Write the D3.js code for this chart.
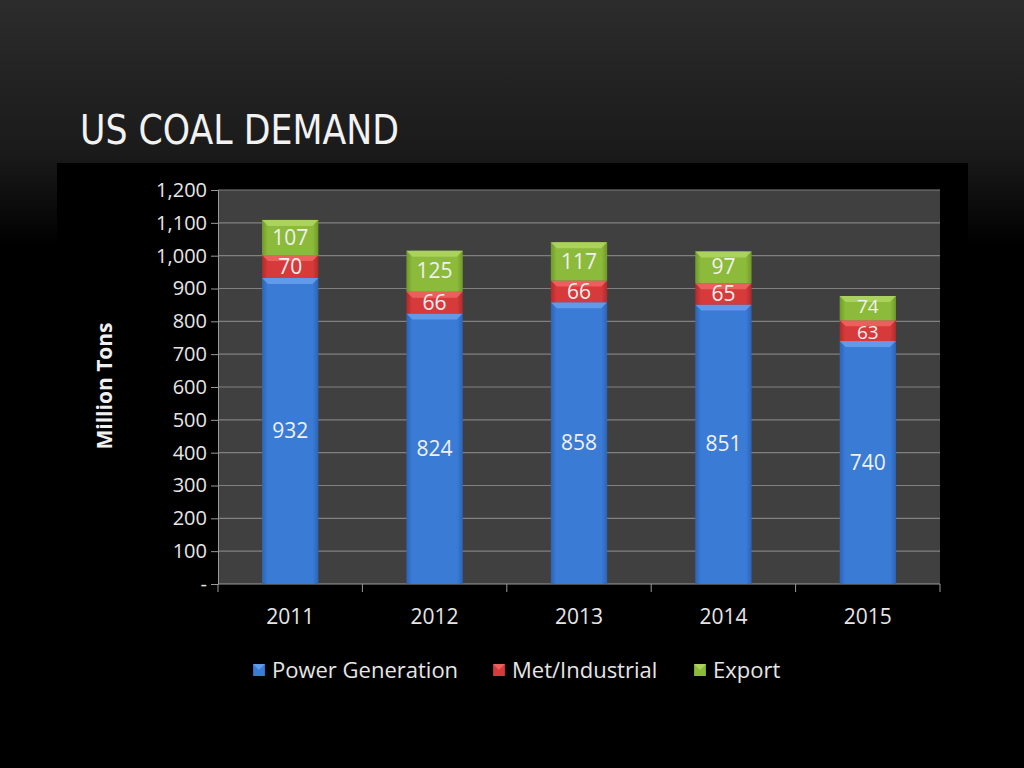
<!DOCTYPE html>
<html><head><meta charset="utf-8">
<script src="https://cdn.jsdelivr.net/npm/d3@7"></script>
<style>body{margin:0;background:#000;}svg{display:block;}</style>
</head><body>
<script>
const years = ["2011","2012","2013","2014","2015"];
const powerGeneration = [932, 824, 858, 851, 740];
const metIndustrial = [70, 66, 66, 65, 63];
const exportVals = [107, 125, 117, 97, 74];
const seriesNames = ["Power Generation", "Met/Industrial", "Export"];
const yTicks = [0,100,200,300,400,500,600,700,800,900,1000,1100,1200];

const W = 1024, H = 768;
const svg = d3.select("body").append("svg").attr("width", W).attr("height", H);
const defs = svg.append("defs");
const bg = defs.append("linearGradient").attr("id","bg").attr("x1",0).attr("y1",0).attr("x2",0).attr("y2",1);
bg.append("stop").attr("offset","0").attr("stop-color","#2c2c2c");
bg.append("stop").attr("offset","0.2").attr("stop-color","#1a1a1a");
bg.append("stop").attr("offset","0.32").attr("stop-color","#000");
bg.append("stop").attr("offset","1").attr("stop-color","#000");
svg.append("rect").attr("width",W).attr("height",H).attr("fill","url(#bg)");

svg.append("text").attr("x",80).attr("y",144).text("US COAL DEMAND")
  .attr("font-family","'Liberation Sans Narrow','DejaVu Sans Condensed',sans-serif")
  .attr("font-size",41).attr("fill","#f2f2f2").attr("textLength",319).attr("lengthAdjust","spacingAndGlyphs");

// chart area
svg.append("rect").attr("x",57).attr("y",163).attr("width",911).attr("height",605).attr("fill","#000");

const colors = [
  {base:"#3a7bd6", light:"#6aa3ee", dark:"#2c64b6"},
  {base:"#d63a3a", light:"#ef6a66", dark:"#b02a2a"},
  {base:"#8cba3a", light:"#b3d867", dark:"#6f9a28"}
];
colors.forEach((c,i)=>{
  const g = defs.append("linearGradient").attr("id","g"+i).attr("x1",0).attr("y1",0).attr("x2",1).attr("y2",0);
  g.append("stop").attr("offset","0").attr("stop-color",c.dark);
  g.append("stop").attr("offset","0.1").attr("stop-color",c.base);
  g.append("stop").attr("offset","0.9").attr("stop-color",c.base);
  g.append("stop").attr("offset","1").attr("stop-color",c.dark);
});

const x0 = 218, x1 = 940, yTop = 190, yBot = 584;
const x = d3.scaleBand().domain(years).range([x0,x1]).paddingInner(0.61).paddingOuter(0.305);
const y = d3.scaleLinear().domain([0,1200]).range([yBot,yTop]);

svg.append("rect").attr("x",x0).attr("y",yTop).attr("width",x1-x0).attr("height",yBot-yTop).attr("fill","#404040");

// gridlines
svg.append("g").selectAll("line").data(yTicks.filter(d=>d>0)).join("line")
  .attr("x1",x0).attr("x2",x1).attr("y1",d=>y(d)).attr("y2",d=>y(d))
  .attr("stroke","#808080").attr("stroke-width",1.2);

const FONT = "'Open Sans',sans-serif";
// y axis
const yAxis = d3.axisLeft(y).tickValues(yTicks).tickSize(7).tickPadding(4)
  .tickFormat(d=> d===0 ? "-" : d3.format(",")(d));
const ya = svg.append("g").attr("transform",`translate(${x0},0)`).call(yAxis);
ya.attr("font-size",null).attr("font-family",null);
ya.select(".domain").attr("stroke","#9a9a9a");
ya.selectAll(".tick line").attr("stroke","#9a9a9a");
ya.selectAll("text").attr("fill","#e6e6e6").style("font-size","20px").style("font-family",FONT);

// x axis
const xa = svg.append("g").attr("transform",`translate(0,${yBot})`);
xa.append("line").attr("x1",x0).attr("x2",x1).attr("stroke","#9a9a9a");
const bounds = d3.range(6).map(i=> x0 + i*(x1-x0)/5);
xa.selectAll("line.t").data(bounds).join("line").attr("class","t")
  .attr("x1",d=>d).attr("x2",d=>d).attr("y1",0).attr("y2",8).attr("stroke","#9a9a9a");
xa.selectAll("text").data(years).join("text")
  .attr("x",d=>x(d)+x.bandwidth()/2).attr("y",40).attr("text-anchor","middle")
  .attr("fill","#e6e6e6").style("font-size","21px").style("font-family",FONT).text(d=>d);

svg.append("text").attr("transform","translate(112,386) rotate(-90)").attr("text-anchor","middle")
  .attr("fill","#f0f0f0").style("font-size","21px").attr("font-weight","bold")
  .style("font-family",FONT).text("Million Tons");

// stacked bars
const rows = years.map((yr,i)=>({year:yr, p:powerGeneration[i], m:metIndustrial[i], e:exportVals[i]}));
const stack = d3.stack().keys(["p","m","e"])(rows);
const bars = svg.append("g");
stack.forEach((layer,li)=>{
  layer.forEach(d=>{
    const bx = x(d.data.year), bw = x.bandwidth();
    const ty = y(d[1]), by = y(d[0]);
    bars.append("rect").attr("x",bx).attr("y",ty).attr("width",bw).attr("height",by-ty).attr("fill",`url(#g${li})`);
    const bev = 6;
    bars.append("path").attr("d",`M${bx},${ty} L${bx+bw},${ty} L${bx+bw-bev},${ty+bev} L${bx+bev},${ty+bev} Z`)
      .attr("fill",colors[li].light).attr("opacity",0.8);
  });
});
stack.forEach((layer,li)=>{
  layer.forEach((d,i)=>{
    const bx = x(d.data.year), bw = x.bandwidth();
    const ty = y(d[1]), by = y(d[0]);
    // when the top (export) segment is very short, its label and the one below get tight
    const topH = y(stack[2][i][0]) - y(stack[2][i][1]);
    const small = li > 0 && topH < 26;
    const fs = small ? 19 : 21;
    const nudge = small ? (li === 2 ? -2 : 2) : 0;
    bars.append("text").attr("x",bx+bw/2).attr("y",(ty+by)/2 + fs*0.34 + nudge).attr("text-anchor","middle")
      .attr("fill","#f0f0f0").style("font-size",fs+"px").style("font-family",FONT)
      .text(d[1]-d[0]);
  });
});

// legend
const legX = [253, 493, 694];
const lg = svg.append("g");
seriesNames.forEach((n,i)=>{
  lg.append("rect").attr("x",legX[i]).attr("y",664).attr("width",12).attr("height",12).attr("fill",`url(#g${i})`);
  lg.append("path").attr("d",`M${legX[i]},664 L${legX[i]+12},664 L${legX[i]+6},670 Z`).attr("fill",colors[i].light).attr("opacity",0.8);
  lg.append("text").attr("x",legX[i]+19).attr("y",678).attr("fill","#e6e6e6").style("font-size","22px")
    .style("font-family",FONT).text(n);
});
</script>
</body></html>
